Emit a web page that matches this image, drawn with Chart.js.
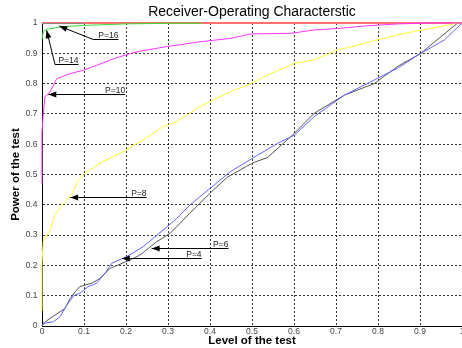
<!DOCTYPE html>
<html>
<head>
<meta charset="utf-8">
<script src="https://cdn.jsdelivr.net/npm/chart.js@4/dist/chart.umd.min.js"></script>
<style>
  html, body { margin: 0; padding: 0; background: #fff; overflow: hidden; }
</style>
</head>
<body>
<canvas id="roc" width="462" height="348"></canvas>
<script>
// values (level of the test -> power of the test)
const p16X = [0, 1];
const p16Y = [1, 1];
const p16bX = [0, 0.1];
const p16bY = [0.998, 0.998];
const p14X = [0, 0.003, 0.011, 0.043, 0.098, 0.2, 0.3, 0.38];
const p14Y = [0.946, 0.972, 0.979, 0.987, 0.992, 0.997, 0.999, 0.999];
const p10X = [0, 0, 0.003, 0.007, 0.019, 0.035, 0.067, 0.098, 0.13, 0.17, 0.21, 0.233, 0.297, 0.376, 0.448, 0.498, 0.593, 0.648, 0.704, 0.767, 0.847, 0.926, 1];
const p10Y = [0.47, 0.64, 0.7, 0.757, 0.772, 0.816, 0.833, 0.844, 0.86, 0.882, 0.899, 0.907, 0.922, 0.938, 0.949, 0.964, 0.966, 0.977, 0.982, 0.99, 0.997, 1, 1];
const p8X = [0, 0, 0.003, 0.011, 0.019, 0.031, 0.043, 0.059, 0.071, 0.087, 0.102, 0.138, 0.193, 0.241, 0.289, 0.321, 0.376, 0.448, 0.498, 0.537, 0.601, 0.648, 0.704, 0.752, 0.799, 0.863, 0.926, 0.99, 1];
const p8Y = [0.05, 0.21, 0.28, 0.298, 0.315, 0.364, 0.392, 0.414, 0.436, 0.48, 0.503, 0.537, 0.575, 0.614, 0.658, 0.674, 0.724, 0.773, 0.8, 0.828, 0.867, 0.878, 0.911, 0.927, 0.944, 0.966, 0.982, 1, 1];
const p6X = [0, 0.003, 0.019, 0.043, 0.055, 0.067, 0.079, 0.09, 0.102, 0.118, 0.138, 0.162, 0.21, 0.233, 0.273, 0.305, 0.352, 0.4, 0.44, 0.487, 0.505, 0.537, 0.601, 0.648, 0.72, 0.791, 0.847, 0.902, 0.95, 0.99, 1];
const p6Y = [0, 0.009, 0.025, 0.047, 0.058, 0.091, 0.113, 0.13, 0.135, 0.141, 0.157, 0.19, 0.218, 0.234, 0.278, 0.306, 0.372, 0.438, 0.49, 0.527, 0.54, 0.556, 0.636, 0.702, 0.762, 0.8, 0.857, 0.9, 0.955, 1, 1];
const p4X = [0, 0.005, 0.027, 0.043, 0.059, 0.075, 0.09, 0.11, 0.13, 0.15, 0.166, 0.202, 0.241, 0.293, 0.321, 0.352, 0.4, 0.448, 0.487, 0.561, 0.601, 0.648, 0.72, 0.791, 0.847, 0.902, 0.958, 1];
const p4Y = [0, 0.009, 0.014, 0.031, 0.069, 0.099, 0.108, 0.13, 0.141, 0.174, 0.207, 0.229, 0.262, 0.322, 0.355, 0.399, 0.454, 0.509, 0.542, 0.603, 0.63, 0.691, 0.762, 0.812, 0.851, 0.9, 0.944, 1];

const xTickLabels = ['0', '0.1', '0.2', '0.3', '0.4', '0.5', '0.6', '0.7', '0.8', '0.9', '1'];
const yTickLabels = ['0', '0.1', '0.2', '0.3', '0.4', '0.5', '0.6', '0.7', '0.8', '0.9', '1'];

// arrow notes: tip on the curve, optional bend, then flat run to the label
const notes = [
  {text: 'P=16', tip: [0.041, 0.99], bend: [0.122, 0.948], end: 0.182},
  {text: 'P=14', tip: [0.011, 0.976], bend: [0.031, 0.866], end: 0.087},
  {text: 'P=10', tip: [0.015, 0.766], end: 0.198},
  {text: 'P=8', tip: [0.067, 0.425], end: 0.249},
  {text: 'P=6', tip: [0.261, 0.256], end: 0.444},
  {text: 'P=4', tip: [0.19, 0.223], end: 0.38}
];

const pts = (xs, ys) => xs.map((x, i) => ({x: x, y: ys[i]}));

function curve(label, xs, ys, color, width) {
  return {
    label: label,
    data: pts(xs, ys),
    showLine: true,
    borderColor: color,
    backgroundColor: color,
    borderWidth: width || 1,
    pointRadius: 0,
    tension: 0,
    clip: 4
  };
}

const notePlugin = {
  id: 'notes',
  afterDatasetsDraw(chart) {
    const {ctx, scales: {x, y}} = chart;
    ctx.save();
    ctx.lineWidth = 1;
    notes.forEach(n => {
      const tx = x.getPixelForValue(n.tip[0]);
      const ex = x.getPixelForValue(n.end);
      let ty, bx, by;
      if (n.bend) {
        ty = y.getPixelForValue(n.tip[1]);
        bx = x.getPixelForValue(n.bend[0]);
        by = Math.round(y.getPixelForValue(n.bend[1])) + 0.5;
      } else {
        by = Math.round(y.getPixelForValue(n.tip[1])) + 0.5;
        ty = by;
        bx = tx;
      }
      ctx.strokeStyle = '#000';
      ctx.beginPath();
      ctx.moveTo(tx, ty);
      ctx.lineTo(bx, by);
      ctx.lineTo(ex, by);
      ctx.stroke();
      // arrow head pointing at the curve
      let dx = n.bend ? tx - bx : tx - ex;
      let dy = n.bend ? ty - by : 0;
      const len = Math.hypot(dx, dy);
      const ux = dx / len, uy = dy / len;
      const hl = 8, hw = 3;
      ctx.fillStyle = '#000';
      ctx.beginPath();
      ctx.moveTo(tx, ty);
      ctx.lineTo(tx - ux * hl - uy * hw, ty - uy * hl + ux * hw);
      ctx.lineTo(tx - ux * hl + uy * hw, ty - uy * hl - ux * hw);
      ctx.closePath();
      ctx.fill();
      ctx.font = '8.5px "Liberation Sans", Arial, sans-serif';
      ctx.fillStyle = '#222';
      ctx.textAlign = 'right';
      ctx.textBaseline = 'alphabetic';
      ctx.fillText(n.text, ex, by - 1.5);
    });
    ctx.restore();
  }
};

const font = '"Liberation Sans", Arial, sans-serif';

new Chart('roc', {
  type: 'scatter',
  data: {
    datasets: [
      curve('P=14', p14X, p14Y, '#33dd33'),
      curve('P=16b', p16bX, p16bY, '#888888'),
      curve('P=10', p10X, p10Y, '#ff33ff'),
      curve('P=8', p8X, p8Y, '#ffff33'),
      curve('P=4', p4X, p4Y, '#6464ff'),
      curve('P=6', p6X, p6Y, '#555555'),
      curve('P=16', p16X, p16Y, '#ff7070', 2)
    ]
  },
  options: {
    responsive: false,
    animation: false,
    layout: {padding: 0},
    scales: {
      x: {
        type: 'linear',
        min: 0,
        max: 1,
        afterFit: s => { s.height = 22; s.paddingRight = 0; },
        ticks: {
          stepSize: 0.1,
          padding: 1,
          color: '#444',
          font: {family: font, size: 8.5},
          maxRotation: 0,
          callback: (v, i) => xTickLabels[i]
        },
        grid: {color: '#333', lineWidth: 1, drawTicks: false},
        border: {display: true, color: '#000', width: 1, dash: [2, 2]},
        title: {
          display: true,
          text: 'Level of the test',
          color: '#000',
          font: {family: font, size: 11.5, weight: 'bold'},
          padding: {top: 0, bottom: 0}
        }
      },
      y: {
        min: 0,
        max: 1,
        afterFit: s => { s.width = 42; },
        ticks: {
          stepSize: 0.1,
          padding: 4.5,
          color: '#444',
          font: {family: font, size: 8.5},
          callback: (v, i) => yTickLabels[i]
        },
        grid: {color: '#333', lineWidth: 1, drawTicks: false},
        border: {display: true, color: '#000', width: 1, dash: [2, 2]},
        title: {
          display: true,
          text: 'Power of the test',
          color: '#000',
          font: {family: font, size: 11.5, weight: 'bold'},
          padding: {top: 9, bottom: 0}
        }
      }
    },
    plugins: {
      legend: {display: false},
      tooltip: {enabled: false},
      title: {
        display: true,
        text: 'Receiver-Operating Characterstic',
        color: '#000',
        fullSize: false,
        font: {family: font, size: 14, weight: 'normal'},
        padding: {top: 4, bottom: 2.2}
      }
    }
  },
  plugins: [notePlugin]
});
</script>
</body>
</html>
